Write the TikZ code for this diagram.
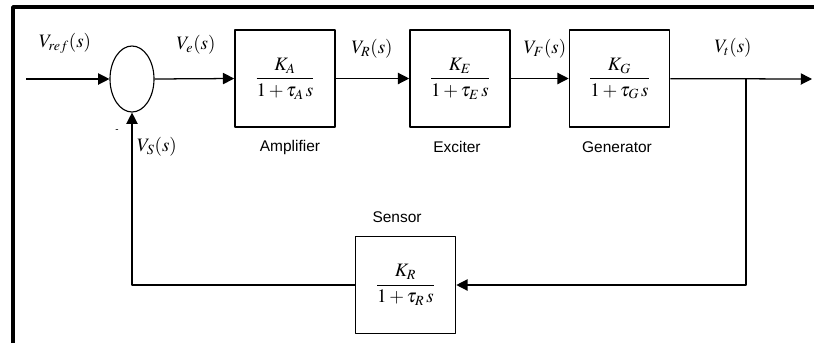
\documentclass[tikz,border=0pt]{standalone}
\usepackage{mathptmx}
\usepackage{fontspec}
\setmainfont{Liberation Sans}
\usetikzlibrary{arrows.meta,shapes.geometric}
\begin{document}
\begin{tikzpicture}[x=0.025cm, y=-0.025cm, font=\fontsize{13.5}{16}\selectfont, line join=round, >={Triangle[length=8pt,width=8pt]},
	khoi/.style={draw, line width=1.1pt, minimum width=2.5cm, minimum height=2.42cm, inner sep=0pt},
	nhan/.style={font=\fontsize{11}{13}\selectfont},
	day/.style={line width=0.9pt}]
	\useasboundingbox (0,0) rectangle (814,343);
	% Khung
	\draw[line width=2.6pt] (13,343) -- (13,7) -- (814,7);
	% Bộ cộng và các khối
	\node[draw, ellipse, line width=0.8pt, minimum width=1.1cm, minimum height=1.65cm] (sum) at (132,79) {};
	\node[khoi] (amp) at (285,78.5) {$\displaystyle\frac{K_A}{1+\tau_A\,s}$};
	\node[khoi] (exc) at (460,78.5) {$\displaystyle\frac{K_E}{1+\tau_E\,s}$};
	\node[khoi] (gen) at (619.5,78.5) {$\displaystyle\frac{K_G}{1+\tau_G\,s}$};
	\node[khoi] (sen) at (405.5,285) {$\displaystyle\frac{K_R}{1+\tau_R\,s}$};
	\node[nhan] (tamp) at (290,147) {Amplifier};
	\node[nhan] (texc) at (457,147) {Exciter};
	\node[nhan] (tgen) at (617,147) {Generator};
	\node[nhan] (tsen) at (397,217) {Sensor};
	% Điểm nối
	\coordinate (in) at (26,79);
	\coordinate (out) at (812,79);
	\coordinate (br) at (746,79);
	% Đường tín hiệu
	\draw[day, ->] (in) -- (sum.west);
	\draw[day, ->] (sum.east) -- (amp.west);
	\draw[day, ->] (amp) -- (exc);
	\draw[day, ->] (exc) -- (gen);
	\draw[day, ->] (gen) -- (out);
	\draw[day, ->] (br) |- (sen.east);
	\draw[day, ->] (sen.west) -| (sum.south);
	% Nhãn tín hiệu
	\node (vref) at (65,43) {$V_{ref}(s)$};
	\node (ve) at (196,45) {$V_e(s)$};
	\node (vr) at (372,49) {$V_R(s)$};
	\node (vf) at (545,49) {$V_F(s)$};
	\node (vt) at (733,48) {$V_t(s)$};
	\node (vs) at (157,147) {$V_S(s)$};
	\node[font=\scriptsize] (tru) at (117,131) {-};
\end{tikzpicture}
\end{document}
